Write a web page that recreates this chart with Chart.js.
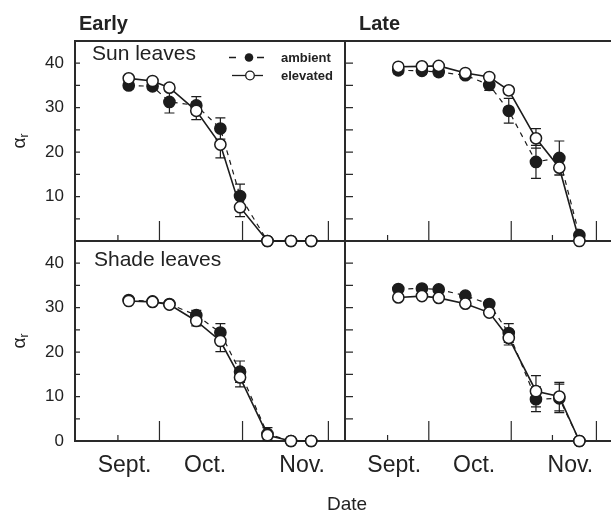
<!DOCTYPE html>
<html>
<head>
<meta charset="utf-8">
<title>alpha_r early / late</title>
<script src="https://cdn.jsdelivr.net/npm/chart.js@4.4.1/dist/chart.umd.min.js"></script>
<style>
  html, body { margin: 0; padding: 0; background: #fff; overflow: hidden; }
  #wrap { position: relative; width: 620px; height: 514px; font-family: "Liberation Sans", Arial, sans-serif; color: #222; }
  #wrap canvas { position: absolute; left: 0; top: 0; }
  .lbl { position: absolute; white-space: nowrap; }
  .title { font-size: 20px; line-height: 20px; font-weight: bold; top: 13px; }
  .panelName { font-size: 21px; line-height: 21px; }
  .leg { font-size: 13px; line-height: 13px; font-weight: bold; left: 281px; }
  .ylab { font-size: 19px; line-height: 19px; left: 21px; transform: translate(-50%, -50%) rotate(-90deg); }
  .ylab sub { font-size: 12px; vertical-align: -3px; }
</style>
</head>
<body>
<div id="wrap">
  <canvas id="shadeEarly" width="620" height="514"></canvas>
  <canvas id="shadeLate" width="620" height="514"></canvas>
  <canvas id="sunLate" width="620" height="514"></canvas>
  <canvas id="sunEarly" width="620" height="514"></canvas>

  <div class="lbl title" style="left:79px">Early</div>
  <div class="lbl title" style="left:359px">Late</div>
  <div class="lbl panelName" style="left:92px; top:42px">Sun leaves</div>
  <div class="lbl panelName" style="left:94px; top:248px">Shade leaves</div>
  <div class="lbl leg" style="top:51px">ambient</div>
  <div class="lbl leg" style="top:69px">elevated</div>
  <div class="lbl ylab" style="top:141px">α<sub>r</sub></div>
  <div class="lbl ylab" style="top:341px">α<sub>r</sub></div>
  <div class="lbl" style="left:347px; top:494px; font-size:19px; line-height:19px; transform:translateX(-50%)">Date</div>
</div>

<script>
// sampling dates (day of year), same for all four panels
const sampleDays = [232.9, 241.5, 247.6, 257.3, 266.0, 273.1, 283.0, 291.5, 298.8];

// x axis: month names, month-start ticks and the half-month minor ticks
const monthLabels = ['Sept.', 'Oct.', 'Nov.'];
const monthLabelDays = [231.4, 260.5, 295.5];
const monthTickDays = [244, 274, 305];
const earlyMinorDays = [229];
const lateMinorDays = [229, 289];

// y axis
const yLabelsTop = [10, 20, 30, 40];
const yLabelsBottom = [0, 10, 20, 30, 40];
const yTickValues = [5, 10, 15, 20, 25, 30, 35, 40];

// Early, sun leaves
const earlySunAmbient = [35.0, 34.8, 31.3, 30.5, 25.3, 10.1, 0, 0, 0];
const earlySunAmbientErr = [0.8, 0.8, 2.5, 2.0, 2.4, 2.7, 0, 0, 0];
const earlySunElevated = [36.6, 36.0, 34.5, 29.3, 21.7, 7.6, 0, 0, 0];
const earlySunElevatedErr = [0.5, 0.5, 0.8, 2.0, 3.0, 2.1, 0, 0, 0];

// Late, sun leaves
const lateSunAmbient = [38.4, 38.3, 38.0, 37.3, 35.1, 29.3, 17.8, 18.7, 1.3];
const lateSunAmbientErr = [0.8, 0.8, 0.8, 0.6, 1.2, 2.8, 3.7, 3.8, 0.5];
const lateSunElevated = [39.2, 39.3, 39.4, 37.8, 36.9, 33.9, 23.1, 16.5, 0];
const lateSunElevatedErr = [0.5, 0.5, 0.5, 0.5, 0.5, 0.8, 2.2, 1.7, 0];

// Early, shade leaves
const earlyShadeAmbient = [31.7, 31.4, 30.8, 28.3, 24.4, 15.6, 1.6, 0, 0];
const earlyShadeAmbientErr = [0.5, 0.5, 0.5, 1.1, 2.0, 2.4, 1.4, 0, 0];
const earlyShadeElevated = [31.5, 31.3, 30.7, 27.0, 22.5, 14.3, 1.3, 0, 0];
const earlyShadeElevatedErr = [0.5, 0.5, 0.5, 1.1, 2.4, 2.1, 0.5, 0, 0];

// Late, shade leaves
const lateShadeAmbient = [34.2, 34.3, 34.1, 32.7, 30.8, 24.3, 9.4, 9.6, 0];
const lateShadeAmbientErr = [0.5, 0.5, 0.5, 0.5, 0.6, 2.1, 2.8, 3.2, 0];
const lateShadeElevated = [32.3, 32.6, 32.2, 30.9, 28.9, 23.2, 11.2, 10.0, 0];
const lateShadeElevatedErr = [0.5, 0.5, 0.5, 0.5, 0.5, 1.6, 3.5, 3.2, 0];

const CANVAS_W = 620, CANVAS_H = 514;
const Y_AXIS_W = 60, X_AXIS_H = 60; // room for tick labels (they get clipped to the axis box)
const INK = '#1c1c1c';
const FONT = '"Liberation Sans", Arial, sans-serif';

function toPoints(values) {
    return sampleDays.map((d, i) => ({ x: d, y: values[i] }));
}

// frame, inward ticks, error bars and the little legend
const panelDecor = {
    id: 'panelDecor',
    beforeDatasetsDraw(chart, args, o) {
        const { ctx, chartArea: a, scales: { x, y } } = chart;
        ctx.save();
        ctx.strokeStyle = '#2a2a2a';
        ctx.lineWidth = 2;
        ctx.beginPath();
        if (o.topBorder) {
            ctx.moveTo(a.right, a.top);
            ctx.lineTo(a.left, a.top);
        } else {
            ctx.moveTo(a.left, a.top);
        }
        ctx.lineTo(a.left, a.bottom);
        ctx.lineTo(a.right, a.bottom);
        ctx.lineTo(a.right, a.top);
        ctx.stroke();

        // ticks point into the panel
        ctx.lineWidth = 1.2;
        ctx.beginPath();
        monthTickDays.forEach(d => {
            const px = x.getPixelForValue(d);
            ctx.moveTo(px, a.bottom);
            ctx.lineTo(px, a.bottom - 20);
        });
        o.minorDays.forEach(d => {
            const px = x.getPixelForValue(d);
            ctx.moveTo(px, a.bottom);
            ctx.lineTo(px, a.bottom - 6);
        });
        yTickValues.forEach(v => {
            const py = y.getPixelForValue(v);
            ctx.moveTo(a.left, py);
            ctx.lineTo(a.left + o.yTickLen, py);
        });
        ctx.stroke();

        // error bars (markers are drawn over them)
        ctx.strokeStyle = INK;
        ctx.beginPath();
        chart.data.datasets.forEach(ds => {
            ds.data.forEach((p, i) => {
                const e = ds.errors[i];
                if (!e) return;
                const px = x.getPixelForValue(p.x);
                const y1 = y.getPixelForValue(p.y + e);
                const y2 = y.getPixelForValue(p.y - e);
                ctx.moveTo(px, y1); ctx.lineTo(px, y2);
                ctx.moveTo(px - 5, y1); ctx.lineTo(px + 5, y1);
                ctx.moveTo(px - 5, y2); ctx.lineTo(px + 5, y2);
            });
        });
        ctx.stroke();
        ctx.restore();
    },
    afterDatasetsDraw(chart, args, o) {
        if (!o.legend) return;
        const { ctx, chartArea: a } = chart;
        const lx = a.left + 174;   // centre of the legend symbols
        const r1 = a.top + 16.5, r2 = a.top + 34.5;
        ctx.save();
        ctx.strokeStyle = INK;
        ctx.lineWidth = 1.3;
        // ambient: dashed line, filled dot
        ctx.beginPath();
        ctx.moveTo(lx - 20, r1); ctx.lineTo(lx - 13, r1);
        ctx.moveTo(lx + 8, r1); ctx.lineTo(lx + 15, r1);
        ctx.stroke();
        ctx.fillStyle = INK;
        ctx.beginPath();
        ctx.arc(lx, r1, 4.3, 0, Math.PI * 2);
        ctx.fill();
        // elevated: solid line, open dot
        ctx.beginPath();
        ctx.moveTo(lx - 17, r2); ctx.lineTo(lx + 14, r2);
        ctx.stroke();
        ctx.fillStyle = '#fff';
        ctx.beginPath();
        ctx.arc(lx + 1, r2, 4.3, 0, Math.PI * 2);
        ctx.fill();
        ctx.stroke();
        ctx.restore();
    }
};

function makePanel(canvasId, cfg) {
    const [L, T, R, B] = cfg.area;
    return new Chart(document.getElementById(canvasId), {
        type: 'line',
        data: {
            datasets: [
                {
                    label: 'elevated',
                    data: toPoints(cfg.elevated),
                    errors: cfg.elevatedErr,
                    borderColor: INK,
                    borderWidth: 1.6,
                    pointRadius: 5.6,
                    pointBorderWidth: 1.5,
                    pointBorderColor: INK,
                    pointBackgroundColor: '#fff',
                    tension: 0,
                    clip: false,
                    order: 0
                },
                {
                    label: 'ambient',
                    data: toPoints(cfg.ambient),
                    errors: cfg.ambientErr,
                    borderColor: INK,
                    borderWidth: 1.2,
                    borderDash: [5, 5],
                    pointRadius: 5.6,
                    pointBorderWidth: 1.5,
                    pointBorderColor: INK,
                    pointBackgroundColor: INK,
                    tension: 0,
                    clip: false,
                    order: 1
                }
            ]
        },
        options: {
            responsive: false,
            animation: false,
            events: [],
            layout: {
                padding: {
                    left: L - Y_AXIS_W,
                    top: T,
                    right: CANVAS_W - R,
                    bottom: CANVAS_H - B - X_AXIS_H
                }
            },
            plugins: {
                legend: { display: false },
                tooltip: { enabled: false },
                panelDecor: {
                    topBorder: cfg.topBorder,
                    minorDays: cfg.minorDays,
                    yTickLen: cfg.yTickLen,
                    legend: cfg.legend
                }
            },
            scales: {
                x: {
                    type: 'linear',
                    min: 213.5,
                    max: 311,
                    grid: { display: false, drawTicks: false },
                    border: { display: false },
                    afterFit: s => { s.height = X_AXIS_H; },
                    afterBuildTicks: s => { s.ticks = monthLabelDays.map(v => ({ value: v })); },
                    ticks: {
                        display: cfg.showX,
                        autoSkip: false,
                        maxRotation: 0,
                        padding: 11,
                        color: '#222',
                        font: { family: FONT, size: 23 },
                        callback: (v, i) => monthLabels[i]
                    }
                },
                y: {
                    type: 'linear',
                    min: 0,
                    max: 45,
                    grid: { display: false, drawTicks: false },
                    border: { display: false },
                    afterFit: s => { s.width = Y_AXIS_W; },
                    afterBuildTicks: s => { s.ticks = cfg.yLabels.map(v => ({ value: v })); },
                    ticks: {
                        display: cfg.showY,
                        padding: 11,
                        color: '#222',
                        font: { family: FONT, size: 17 }
                    }
                }
            }
        },
        plugins: [panelDecor]
    });
}

// bottom row first so the top row's markers sit over the shared border
makePanel('shadeEarly', {
    area: [75, 241, 345, 441],
    ambient: earlyShadeAmbient, ambientErr: earlyShadeAmbientErr,
    elevated: earlyShadeElevated, elevatedErr: earlyShadeElevatedErr,
    showX: true, showY: true, yLabels: yLabelsBottom,
    topBorder: false, minorDays: earlyMinorDays, yTickLen: 5, legend: false
});
makePanel('shadeLate', {
    area: [345, 241, 615, 441],
    ambient: lateShadeAmbient, ambientErr: lateShadeAmbientErr,
    elevated: lateShadeElevated, elevatedErr: lateShadeElevatedErr,
    showX: true, showY: false, yLabels: yLabelsBottom,
    topBorder: false, minorDays: lateMinorDays, yTickLen: 8, legend: false
});
makePanel('sunLate', {
    area: [345, 41, 615, 241],
    ambient: lateSunAmbient, ambientErr: lateSunAmbientErr,
    elevated: lateSunElevated, elevatedErr: lateSunElevatedErr,
    showX: false, showY: false, yLabels: yLabelsTop,
    topBorder: true, minorDays: lateMinorDays, yTickLen: 8, legend: false
});
makePanel('sunEarly', {
    area: [75, 41, 345, 241],
    ambient: earlySunAmbient, ambientErr: earlySunAmbientErr,
    elevated: earlySunElevated, elevatedErr: earlySunElevatedErr,
    showX: false, showY: true, yLabels: yLabelsTop,
    topBorder: true, minorDays: earlyMinorDays, yTickLen: 5, legend: true
});
</script>
</body>
</html>
